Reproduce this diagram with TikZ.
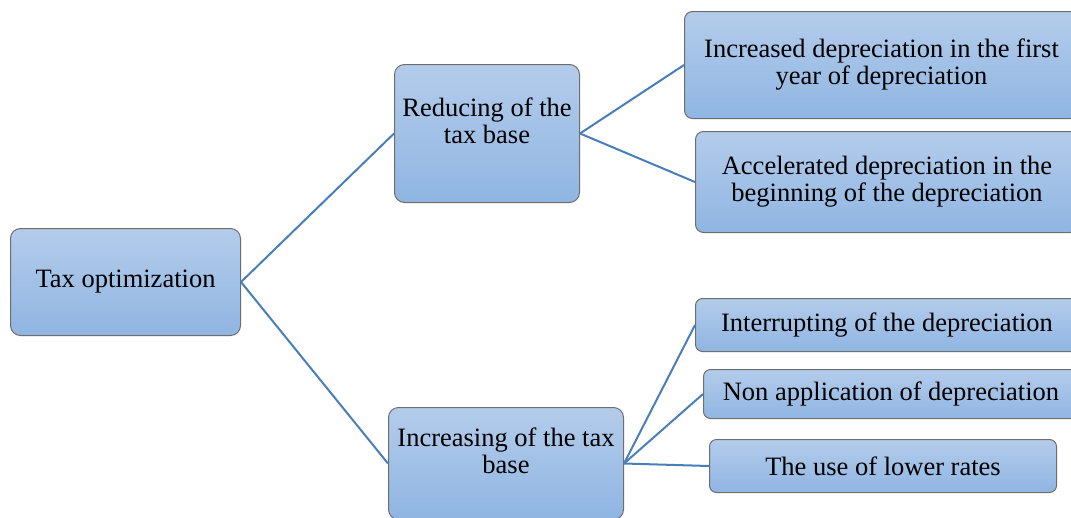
\documentclass[tikz,border=0pt]{standalone}
\usepackage{fontspec}
\setmainfont{Liberation Serif}
\definecolor{linkblue}{RGB}{74,126,187}
\definecolor{boxedge}{RGB}{110,110,110}
\definecolor{boxtop}{RGB}{180,204,235}
\definecolor{boxbot}{RGB}{143,181,226}
\tikzset{
  box/.style={rectangle, draw=boxedge, line width=1pt, rounded corners=#1,
    top color=boxtop, bottom color=boxbot, inner sep=0pt, anchor=north west},
  box/.default=8pt,
  txt/.style={align=center, inner sep=0pt, text=black,
    font=\fontsize{26.5}{27}\selectfont},
  link/.style={draw=linkblue, line width=2pt}
}
\begin{document}
\begin{tikzpicture}[x=1pt,y=-1pt]
\clip (0,0) rectangle (1071,517);
\fill[white] (0,0) rectangle (1071,517);
% boxes
\node[box=10pt, minimum width=230pt, minimum height=107pt] (tax) at (10,228) {};
\node[box=10pt, minimum width=185pt, minimum height=138pt] (red) at (394,64) {};
\node[box=10pt, minimum width=235pt, minimum height=112pt] (inc) at (388,407) {};
\node[box=8pt, minimum width=394pt, minimum height=107pt] (b1) at (684,11) {};
\node[box=8pt, minimum width=383pt, minimum height=101pt] (b2) at (695,131) {};
\node[box=7pt, minimum width=383pt, minimum height=53pt] (b3) at (695,298) {};
\node[box=7pt, minimum width=375pt, minimum height=49pt] (b4) at (703,369) {};
\node[box=7pt, minimum width=347pt, minimum height=53pt] (b5) at (709,439) {};
% texts
\node[txt] (taxt) at (tax.center) {Tax optimization};
\node[txt, yshift=13pt] (redt) at (red.center) {Reducing of the\\tax base};
\node[txt, yshift=13pt] (inct) at (inc.center) {Increasing of the tax\\base};
\node[txt] (b1t) at (b1.center) {Increased depreciation in the first\\year of depreciation};
\node[txt] (b2t) at (b2.center) {Accelerated depreciation in the\\beginning of the depreciation};
\node[txt] (b3t) at (b3.center) {Interrupting of the depreciation};
\node[txt] (b4t) at (b4.center) {Non application of depreciation};
\node[txt] (b5t) at (b5.center) {The use of lower rates};
% connectors
\draw[link] (tax.east) -- (red.west);
\draw[link] (tax.east) -- (inc.west);
\draw[link] (red.east) -- (b1.west);
\draw[link] (red.east) -- (b2.west);
\draw[link] (inc.east) -- (b3.west);
\draw[link] (inc.east) -- (b4.west);
\draw[link] (inc.east) -- (b5.west);
\end{tikzpicture}
\end{document}
